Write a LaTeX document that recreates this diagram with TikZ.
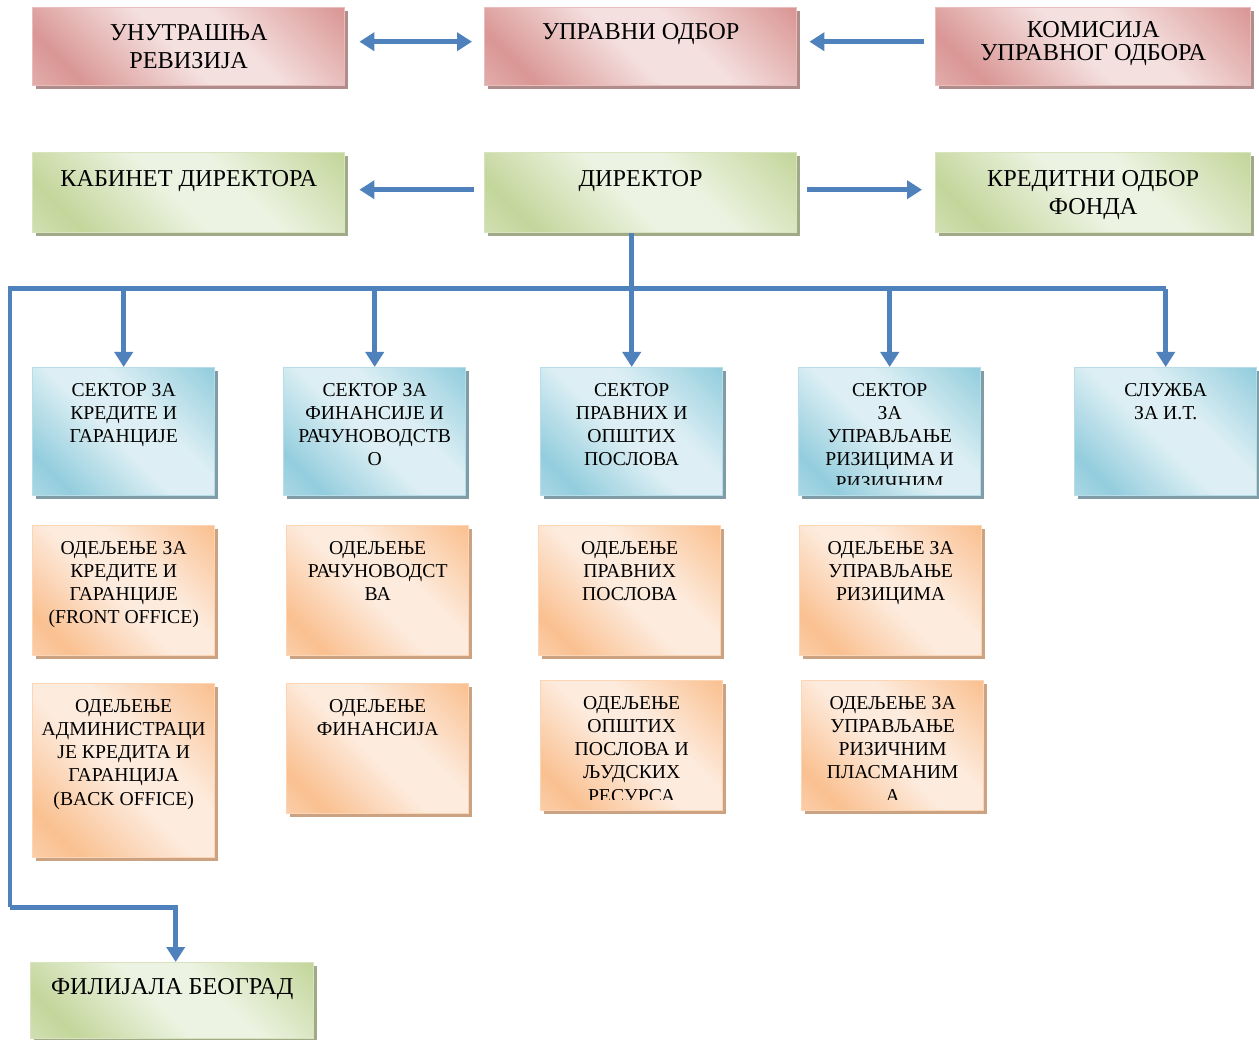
\documentclass[tikz,border=0pt]{standalone}
\usepackage{fontspec}
\setmainfont{Liberation Serif}
\usetikzlibrary{arrows.meta,positioning,calc,shadows}
\definecolor{redD}{HTML}{D99694}
\definecolor{redL}{HTML}{F4E0DF}
\definecolor{redBd}{HTML}{E8BDBC}
\definecolor{redSh}{HTML}{B08C8B}
\definecolor{grnD}{HTML}{C3D69B}
\definecolor{grnL}{HTML}{EDF3E2}
\definecolor{grnBd}{HTML}{D7E4BD}
\definecolor{grnSh}{HTML}{A0AA88}
\definecolor{bluD}{HTML}{93CDDD}
\definecolor{bluL}{HTML}{DDEFF4}
\definecolor{bluBd}{HTML}{B7DEE8}
\definecolor{bluSh}{HTML}{809CA6}
\definecolor{orgD}{HTML}{FAC090}
\definecolor{orgL}{HTML}{FDEBDD}
\definecolor{orgBd}{HTML}{FCD5B5}
\definecolor{orgSh}{HTML}{CBA383}
\definecolor{linkblue}{HTML}{4F81BD}
\colorlet{boxD}{bluD}
\colorlet{boxL}{bluL}
\colorlet{boxM}{bluD}
\pgfdeclarehorizontalshading[boxD,boxL,boxM]{bandshade}{100bp}{%
  color(0bp)=(boxM); color(15bp)=(boxM); color(24bp)=(boxD); color(47bp)=(boxL);
  color(60bp)=(boxL); color(85bp)=(boxD); color(100bp)=(boxD)}
\def\pxu{0.02cm}
\tikzset{
  boxbase/.style={rectangle,anchor=north west,inner sep=0pt,line width=0.8pt,
    shade,shading=bandshade,shading angle=45},
  redbox/.style={boxbase,draw=redBd,
    /utils/exec={\colorlet{boxD}{redD}\colorlet{boxL}{redL}\colorlet{boxM}{redD!70!redL}},
    drop shadow={shadow xshift=0.07cm,shadow yshift=-0.07cm,fill=redSh,opacity=1}},
  grnbox/.style={boxbase,draw=grnBd,
    /utils/exec={\colorlet{boxD}{grnD}\colorlet{boxL}{grnL}\colorlet{boxM}{grnD!70!grnL}},
    drop shadow={shadow xshift=0.07cm,shadow yshift=-0.07cm,fill=grnSh,opacity=1}},
  blubox/.style={boxbase,draw=bluBd,
    /utils/exec={\colorlet{boxD}{bluD}\colorlet{boxL}{bluL}\colorlet{boxM}{bluD!70!bluL}},
    drop shadow={shadow xshift=0.07cm,shadow yshift=-0.07cm,fill=bluSh,opacity=1}},
  orgbox/.style={boxbase,draw=orgBd,
    /utils/exec={\colorlet{boxD}{orgD}\colorlet{boxL}{orgL}\colorlet{boxM}{orgD!70!orgL}},
    drop shadow={shadow xshift=0.07cm,shadow yshift=-0.07cm,fill=orgSh,opacity=1}},
  bigtxt/.style={anchor=north,inner sep=0pt,align=center,font=\fontsize{13.8}{16}\selectfont},
  smalltxt/.style={anchor=north,inner sep=0pt,align=center,font=\fontsize{11.2}{13.2}\selectfont},
  link/.style={draw=linkblue,line width=0.1cm},
  headtip/.style={-{Triangle[width=0.36cm,length=0.3cm]}},
}
\begin{document}
\begin{tikzpicture}[x=0.02cm,y=-0.02cm]
  \useasboundingbox (0,0) rectangle (1259,1040);
  % uprava
  \node[redbox,minimum width=312*\pxu,minimum height=78*\pxu] (revizija) at (32,7) {};
  \node[redbox,minimum width=312*\pxu,minimum height=78*\pxu] (uodbor) at (484,7) {};
  \node[redbox,minimum width=315*\pxu,minimum height=78*\pxu] (komisija) at (935,7) {};
  \node[bigtxt] (revizija-t) at ([yshift=-17*\pxu]revizija.north) {УНУТРАШЊА\\РЕВИЗИЈА};
  \node[bigtxt] (uodbor-t) at ([yshift=-16*\pxu]uodbor.north) {УПРАВНИ ОДБОР};
  \node[bigtxt,font=\fontsize{13.8}{13.2}\selectfont] (komisija-t) at ([yshift=-14*\pxu]komisija.north) {КОМИСИЈА\\УПРАВНОГ ОДБОРА};
  % direktor
  \node[grnbox,minimum width=312*\pxu,minimum height=80*\pxu] (kabinet) at (32,152) {};
  \node[grnbox,minimum width=312*\pxu,minimum height=80*\pxu] (direktor) at (484,152) {};
  \node[grnbox,minimum width=315*\pxu,minimum height=80*\pxu] (kodbor) at (935,152) {};
  \node[bigtxt] (kabinet-t) at ([yshift=-18*\pxu]kabinet.north) {КАБИНЕТ ДИРЕКТОРА};
  \node[bigtxt] (direktor-t) at ([yshift=-18*\pxu]direktor.north) {ДИРЕКТОР};
  \node[bigtxt] (kodbor-t) at ([yshift=-18*\pxu]kodbor.north) {КРЕДИТНИ ОДБОР\\ФОНДА};
  \node[grnbox,minimum width=283*\pxu,minimum height=76*\pxu] (filijala) at (30,962) {};
  \node[bigtxt] (filijala-t) at ([yshift=-16*\pxu]filijala.north) {ФИЛИЈАЛА БЕОГРАД};
  % sektori i odeljenja
  \foreach \n/\x/\y/\h/\b/\t in {
    s1/32/367/128/blubox/{СЕКТОР ЗА\\КРЕДИТЕ И\\ГАРАНЦИЈЕ},
    s2/283/367/128/blubox/{СЕКТОР ЗА\\ФИНАНСИЈЕ И\\РАЧУНОВОДСТВ\\О},
    s3/540/367/128/blubox/{СЕКТОР\\ПРАВНИХ И\\ОПШТИХ\\ПОСЛОВА},
    s4/798/367/128/blubox/{СЕКТОР\\ЗА\\УПРАВЉАЊЕ\\РИЗИЦИМА И\\РИЗИЧНИМ},
    s5/1074/367/128/blubox/{СЛУЖБА\\ЗА И.Т.},
    o1/32/525/130/orgbox/{ОДЕЉЕЊЕ ЗА\\КРЕДИТЕ И\\ГАРАНЦИЈЕ\\(FRONT OFFICE)},
    o2/286/525/130/orgbox/{ОДЕЉЕЊЕ\\РАЧУНОВОДСТ\\ВА},
    o3/538/525/130/orgbox/{ОДЕЉЕЊЕ\\ПРАВНИХ\\ПОСЛОВА},
    o4/799/525/130/orgbox/{ОДЕЉЕЊЕ ЗА\\УПРАВЉАЊЕ\\РИЗИЦИМА},
    o5/32/683/174/orgbox/{ОДЕЉЕЊЕ\\АДМИНИСТРАЦИ\\ЈЕ КРЕДИТА И\\ГАРАНЦИЈА\\(BACK OFFICE)},
    o6/286/683/130/orgbox/{ОДЕЉЕЊЕ\\ФИНАНСИЈА},
    o7/540/680/130/orgbox/{ОДЕЉЕЊЕ\\ОПШТИХ\\ПОСЛОВА И\\ЉУДСКИХ\\РЕСУРСА},
    o8/801/680/130/orgbox/{ОДЕЉЕЊЕ ЗА\\УПРАВЉАЊЕ\\РИЗИЧНИМ\\ПЛАСМАНИМ\\А}}{%
    \node[\b,minimum width=182*\pxu,minimum height=\h*\pxu] (\n) at (\x,\y) {};
    \begin{scope}
      \clip (\n.north west) rectangle ([yshift=12*\pxu]\n.south east);
      \node[smalltxt] (\n-t) at ([yshift=-16*\pxu]\n.north) {\t};
    \end{scope}}
  % strelice gore
  \draw[link,{Triangle[width=0.36cm,length=0.3cm]}-{Triangle[width=0.36cm,length=0.3cm]},shorten <=0.28cm,shorten >=0.24cm]
    ([yshift=0.1cm]revizija.east) -- ([yshift=0.1cm]uodbor.west);
  \draw[link,headtip,shorten <=0.22cm,shorten >=0.24cm] ([yshift=0.1cm]komisija.west) -- ([yshift=0.1cm]uodbor.east);
  \draw[link,headtip,shorten <=0.2cm,shorten >=0.28cm] ([yshift=0.06cm]direktor.west) -- ([yshift=0.06cm]kabinet.east);
  \draw[link,headtip,shorten <=0.2cm,shorten >=0.26cm] ([yshift=0.06cm]direktor.east) -- ([yshift=0.06cm]kodbor.west);
  % magistrala
  \coordinate (busL) at (10,289);
  \coordinate (bend) at (10,907);
  \draw[link] (s5.north |- busL) -- (busL) -- (bend);
  \draw[link,headtip] (bend) -| ([xshift=0.07cm]filijala.north);
  \draw[link,headtip] (s3.north |- direktor.south) -- (s3.north);
  \foreach \n in {s1,s2,s4,s5}{%
    \draw[link,headtip] (\n.north |- busL) -- (\n.north);}
\end{tikzpicture}
\end{document}
